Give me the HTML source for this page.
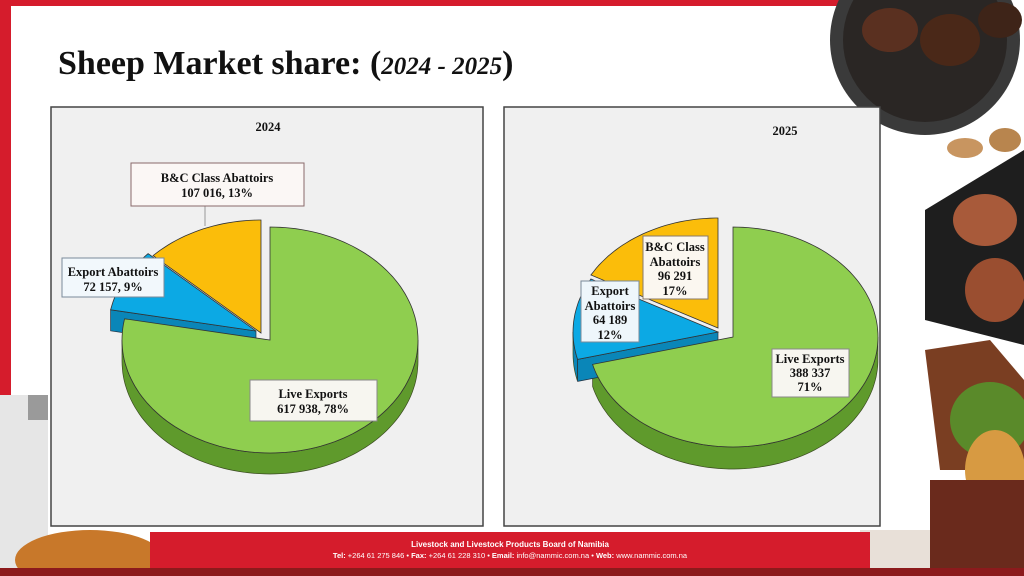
<!DOCTYPE html>
<html><head><meta charset="utf-8"><style>
body{margin:0;width:1024px;height:576px;overflow:hidden;background:#fff;font-family:"Liberation Serif",serif}
svg{position:absolute;left:0;top:0}
.lb{font-family:"Liberation Serif",serif;font-weight:bold;font-size:12.5px;fill:#111;text-anchor:middle}
</style></head><body>
<svg id="s" width="1024" height="576" viewBox="0 0 1024 576">
<rect x="0" y="0" width="840" height="6" fill="#d51c2c"/>
<rect x="0" y="0" width="11" height="440" fill="#d51c2c"/>
<!-- right decorations -->
<circle cx="925" cy="40" r="95" fill="#3a3a3a"/>
<circle cx="925" cy="40" r="82" fill="#2a2624"/>
<ellipse cx="890" cy="30" rx="28" ry="22" fill="#5a3020"/>
<ellipse cx="950" cy="40" rx="30" ry="26" fill="#4a2818"/>
<ellipse cx="1000" cy="20" rx="22" ry="18" fill="#3e2418"/>
<ellipse cx="965" cy="148" rx="18" ry="10" fill="#c89560"/>
<ellipse cx="1005" cy="140" rx="16" ry="12" fill="#b8854e"/>
<polygon points="925,210 1024,150 1024,345 925,320" fill="#1e1e1e"/>
<ellipse cx="985" cy="220" rx="32" ry="26" fill="#a85a3a"/>
<ellipse cx="995" cy="290" rx="30" ry="32" fill="#9a4e30"/>
<polygon points="925,350 990,340 1024,380 1024,470 940,470" fill="#7a3e22"/>
<ellipse cx="990" cy="420" rx="40" ry="38" fill="#5a8a2a"/>
<ellipse cx="995" cy="470" rx="30" ry="40" fill="#d79a42"/>
<rect x="930" y="480" width="94" height="96" fill="#6a2a1c"/>
<rect x="860" y="530" width="70" height="46" fill="#e8e0d8"/>
<!-- left decorations -->
<rect x="0" y="395" width="48" height="181" fill="#e6e6e6"/>
<rect x="28" y="395" width="20" height="25" fill="#9a9a9a"/>
<ellipse cx="90" cy="560" rx="75" ry="30" fill="#c8782a"/>
<!-- footer -->
<rect x="150" y="532" width="720" height="36" fill="#d51c2c"/>
<rect x="0" y="568" width="1024" height="8" fill="#8c1a1c"/>
<text x="510" y="547" fill="#fff" font-family="Liberation Sans,sans-serif" font-weight="bold" font-size="8" text-anchor="middle">Livestock and Livestock Products Board of Namibia</text>
<text x="510" y="558" fill="#fff" font-family="Liberation Sans,sans-serif" font-size="7.5" text-anchor="middle"><tspan font-weight="bold">Tel:</tspan> +264 61 275 846 • <tspan font-weight="bold">Fax:</tspan> +264 61 228 310 • <tspan font-weight="bold">Email:</tspan> info@nammic.com.na • <tspan font-weight="bold">Web:</tspan> www.nammic.com.na</text>
<!-- title -->
<text x="58" y="74" font-family="Liberation Serif,serif" font-weight="bold" font-size="34" fill="#111">Sheep Market share: (<tspan font-style="italic" font-size="25">2024 - 2025</tspan>)</text>
<!-- chart boxes -->
<rect x="51" y="107" width="432" height="419" fill="#f0f0f0" stroke="#444" stroke-width="1.5"/>
<rect x="504" y="107" width="376" height="419" fill="#f0f0f0" stroke="#444" stroke-width="1.5"/>
<text x="268" y="131" class="lb" font-size="14">2024</text>
<text x="785" y="135" class="lb" font-size="14">2025</text>
<g id="p"></g>
<line x1="205" y1="206" x2="205" y2="226" stroke="#999"/>
<!-- labels chart1 -->
<rect x="131" y="163" width="173" height="43" fill="#fbf7f5" stroke="#8a6a6a"/>
<text x="217" y="182" class="lb">B&amp;C Class Abattoirs</text>
<text x="217" y="197" class="lb">107 016, 13%</text>
<rect x="62" y="258" width="102" height="39" fill="#f2f8fc" stroke="#7a8a9a"/>
<text x="113" y="276" class="lb">Export Abattoirs</text>
<text x="113" y="291" class="lb">72 157, 9%</text>
<rect x="250" y="380" width="127" height="41" fill="#f7f6f0" stroke="#888"/>
<text x="313" y="398" class="lb">Live Exports</text>
<text x="313" y="413" class="lb">617 938, 78%</text>
<!-- labels chart2 -->
<rect x="643" y="236" width="65" height="63" fill="#fbf7f0" stroke="#8a7a6a"/>
<text x="675" y="251" class="lb">B&amp;C Class</text>
<text x="675" y="266" class="lb">Abattoirs</text>
<text x="675" y="280" class="lb">96 291</text>
<text x="675" y="295" class="lb">17%</text>
<rect x="581" y="281" width="58" height="61" fill="#eef6fb" stroke="#7a8a9a"/>
<text x="610" y="295" class="lb">Export</text>
<text x="610" y="310" class="lb">Abattoirs</text>
<text x="610" y="324" class="lb">64 189</text>
<text x="610" y="339" class="lb">12%</text>
<rect x="772" y="349" width="77" height="48" fill="#f7f6f0" stroke="#888"/>
<text x="810" y="363" class="lb">Live Exports</text>
<text x="810" y="377" class="lb">388 337</text>
<text x="810" y="391" class="lb">71%</text>
</svg>
<script>
function pie(cx,cy,rx,ry,d,slices){
 var out='';
 function P(t,ox,oy,dy){t=t*Math.PI/180;return [(cx+ox+rx*Math.sin(t)).toFixed(1),(cy+oy+dy-ry*Math.cos(t)).toFixed(1)];}
 function arc(a,b,ox,oy,dy){var s='';for(var t=a;t<=b+0.01;t+=2){var q=P(Math.min(t,b),ox,oy,dy);s+=' L'+q[0]+' '+q[1];}var q=P(b,ox,oy,dy);return s+' L'+q[0]+' '+q[1];}
 var tops='';
 slices.forEach(function(s){
  var a=s[0],b=s[1],ox=s[3],oy=s[4];
  // side wall (front portion 90..270)
  var sa=Math.max(a,90),sb=Math.min(b,270);
  if(sb>sa){var p0=P(sa,ox,oy,0);out+='<path d="M'+p0[0]+' '+p0[1]+arc(sa,sb,ox,oy,0);
   var r='';for(var t=sb;t>=sa-0.01;t-=2){var q=P(Math.max(t,sa),ox,oy,d);r+=' L'+q[0]+' '+q[1];}
   out+=r+' Z" fill="'+s[5]+'" stroke="#3a4a20" stroke-width="0.7"/>';}
  if(s[6]){ // left radial wall for exploded small slices
   var q1=P(a,ox,oy,0),q2=P(a,ox,oy,d);out+='<path d="M'+(cx+ox)+' '+(cy+oy)+' L'+q1[0]+' '+q1[1]+' L'+q2[0]+' '+q2[1]+' L'+(cx+ox)+' '+(cy+oy+d)+' Z" fill="'+s[5]+'" stroke="#234" stroke-width="0.7"/>';}
  var p=P(a,ox,oy,0);
  tops+='<path d="M'+(cx+ox)+' '+(cy+oy)+' L'+p[0]+' '+p[1]+arc(a,b,ox,oy,0)+' Z" fill="'+s[2]+'" stroke="#333" stroke-width="0.8"/>';
 });
 return out+tops;
}
var g='';
g+=pie(270,340,148,113,21,[[0,280.8,'#8fce4f',0,0,'#5f9a2c'],[280.8,313.2,'#0ca9e4',-14,-9,'#0a86b8',1],[313.2,360,'#fbbd0a',-9,-7,'#c99000']]);
g+=pie(733,337,145,110,22,[[0,255.6,'#8fce4f',0,0,'#5f9a2c'],[255.6,298.8,'#0ca9e4',-15,-5,'#0a86b8',1],[298.8,360,'#fbbd0a',-15,-9,'#c99000']]);
document.getElementById('p').innerHTML=g;
</script>
</body></html>
